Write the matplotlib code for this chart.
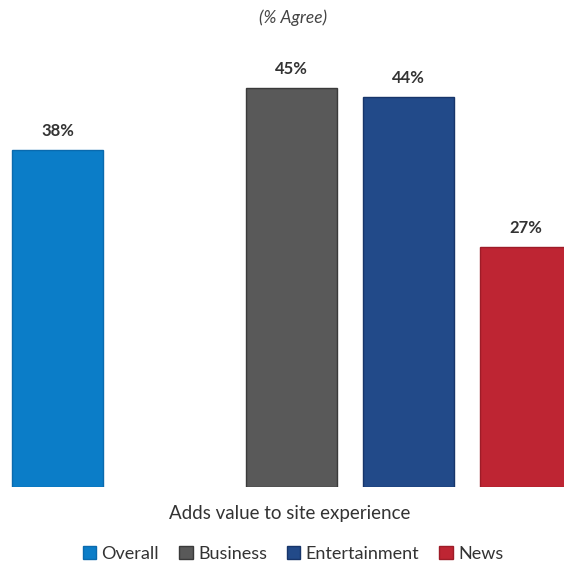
import matplotlib
matplotlib.use("Agg")
import matplotlib.pyplot as plt
from matplotlib.patches import Patch

plt.rcParams['font.family'] = ['Lato', 'DejaVu Sans']

categories = ["Overall", "Business", "Entertainment", "News"]
values = [38, 45, 44, 27]
slots = [0, 2, 3, 4]
colors = ["#0B7DC8", "#595959", "#224A89", "#BE2533"]
edges = ["#0A6AAE", "#3A3A3A", "#17356A", "#9E1C28"]
subtitle = "(% Agree)"
xlabel = "Adds value to site experience"

fig = plt.figure(figsize=(5.64, 5.63), dpi=100)
ax = fig.add_axes([0, 76 / 563, 1, 487 / 563])

ax.bar(slots, values, width=0.78, color=colors, edgecolor=edges, linewidth=1.0)
for x, v in zip(slots, values):
    ax.annotate(f"{v}%", (x, v), xytext=(0, 8), textcoords="offset points",
                ha="center", va="bottom", fontsize=12, fontweight="bold", color="#333333")

ax.set_xlim(-0.491, 4.329)
ax.set_ylim(0, 54.9)
ax.axis("off")

fig.text(293 / 564, 1 - 18 / 563, subtitle, ha="center", va="center",
         fontsize=12.5, style="italic", color="#444444")
fig.text(290 / 564, 1 - 513 / 563, xlabel, ha="center", va="center",
         fontsize=13.5, color="#333333")

handles = [Patch(facecolor=c, edgecolor=e) for c, e in zip(colors, edges)]
fig.legend(handles, categories, loc="center", bbox_to_anchor=(293 / 564, 1 - 554 / 563),
           ncol=4, frameon=False, fontsize=13, handlelength=0.75, handleheight=0.75,
           handletextpad=0.3, columnspacing=1.1, labelcolor="#333333")

fig.savefig("out.png", dpi=100)
